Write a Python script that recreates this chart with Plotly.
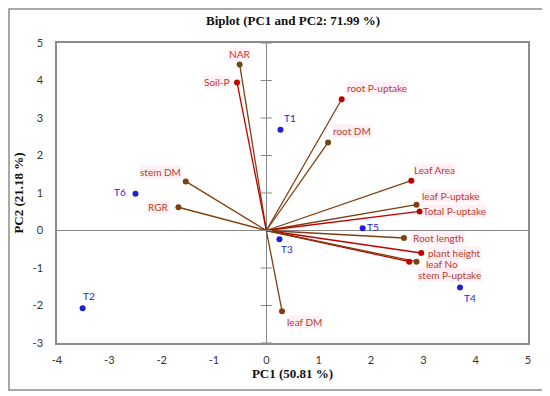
import plotly.graph_objects as go

# ---- data ----
var_names = ["NAR", "Soil-P", "stem DM", "RGR", "root P-uptake", "root DM", "Leaf Area",
             "leaf P-uptake", "Total P-uptake", "Root length", "plant height", "leaf No",
             "stem P-uptake", "leaf DM"]
var_pc1 = [-0.51, -0.56, -1.54, -1.68, 1.44, 1.18, 2.77, 2.87, 2.93, 2.63, 2.96, 2.73, 2.87, 0.30]
var_pc2 = [4.43, 3.95, 1.31, 0.62, 3.50, 2.35, 1.33, 0.69, 0.51, -0.20, -0.60, -0.83, -0.83, -2.15]

obs_names = ["T1", "T2", "T3", "T4", "T5", "T6"]
obs_pc1 = [0.27, -3.51, 0.25, 3.70, 1.84, -2.50]
obs_pc2 = [2.69, -2.07, -0.23, -1.52, 0.06, 0.98]

x_ticks = [-4, -3, -2, -1, 0, 1, 2, 3, 4, 5]
x_tick_labels = ["-4", "-3", "-2", "-1", "0", "1", "2", "3", "4", "5"]
y_ticks = [-3, -2, -1, 0, 1, 2, 3, 4, 5]
y_tick_labels = ["-3", "-2", "-1", "0", "1", "2", "3", "4", "5"]

# ---- styles ----
RED = "#C00000"
BROWN = "#7F3F10"
OLIVE = "#6B4A12"
line_cols = [BROWN, RED, BROWN, BROWN, BROWN, BROWN, BROWN, BROWN, RED, BROWN, RED, RED, BROWN, BROWN]
mark_cols = [OLIVE, RED, BROWN, BROWN, RED, OLIVE, RED, BROWN, RED, BROWN, RED, RED, BROWN, BROWN]
# label placement: (xanchor, yanchor, xshift, yshift)
var_lab = [("center", "bottom", 0, 3), ("right", "middle", -6, 0), ("right", "bottom", -4, 2),
           ("right", "middle", -8, 0), ("left", "bottom", 4, 4), ("left", "bottom", 4, 4),
           ("left", "bottom", 2, 4), ("left", "bottom", 4, 2), ("left", "middle", 2, 0),
           ("left", "middle", 8, 0), ("left", "middle", 6, 0), ("left", "middle", 16, -2),
           ("left", "middle", 0, -13), ("left", "top", 4, -4)]
obs_lab = [("left", "bottom", 2, 4), ("left", "bottom", -2, 4), ("left", "top", 0, -2),
           ("left", "top", 2, -2), ("left", "middle", 2, 1), ("right", "middle", -8, 2)]

LABEL_COL = "#B8402C"
BLUE = "#1F1FD8"
SERIF = "Liberation Serif"
SANS = "Lato"

fig = go.Figure()

for i, n in enumerate(var_names):
    fig.add_trace(go.Scatter(x=[0, var_pc1[i]], y=[0, var_pc2[i]], mode="lines",
                             line=dict(color=line_cols[i], width=1.3), hoverinfo="skip",
                             showlegend=False))
fig.add_trace(go.Scatter(x=var_pc1, y=var_pc2, mode="markers", text=var_names,
                         marker=dict(color=mark_cols, size=6), showlegend=False))
fig.add_trace(go.Scatter(x=obs_pc1, y=obs_pc2, mode="markers", text=obs_names,
                         marker=dict(color=BLUE, size=6), showlegend=False))

# tick marks on the zero line
fig.add_trace(go.Scatter(x=[0] * len(y_ticks), y=y_ticks, mode="markers",
                         marker=dict(symbol="line-ew", size=8,
                                     line=dict(color="#888888", width=1)),
                         hoverinfo="skip", showlegend=False))

for i, n in enumerate(var_names):
    xa, ya, xs, ys = var_lab[i]
    fig.add_annotation(x=var_pc1[i], y=var_pc2[i], text=n, showarrow=False,
                       xanchor=xa, yanchor=ya, xshift=xs, yshift=ys,
                       font=dict(family=SANS, size=10, color=LABEL_COL),
                       bgcolor="rgba(255,225,238,0.55)", borderpad=0)
for i, n in enumerate(obs_names):
    xa, ya, xs, ys = obs_lab[i]
    fig.add_annotation(x=obs_pc1[i], y=obs_pc2[i], text=n, showarrow=False,
                       xanchor=xa, yanchor=ya, xshift=xs, yshift=ys,
                       font=dict(family=SANS, size=10, color=BLUE))

# outer frame (plot area 471 x 300 px)
fig.add_shape(type="rect", xref="paper", yref="paper",
              x0=-48 / 471, x1=1 + 18 / 471, y0=-47 / 300, y1=1 + 34 / 300,
              line=dict(color="#8C8C8C", width=1.5), layer="above")

fig.add_annotation(xref="paper", yref="paper", x=0.5, y=1 + 13 / 300, yanchor="bottom",
                   text="<b>Biplot (PC1 and PC2: 71.99 %)</b>", showarrow=False,
                   font=dict(family=SERIF, size=13, color="#111111"))

axis_common = dict(showgrid=False, zeroline=True, zerolinecolor="#888888", zerolinewidth=1,
                   showline=True, mirror=True, linecolor="#8C8C8C", linewidth=1.5,
                   ticks="", automargin=False,
                   tickfont=dict(family=SANS, size=11, color="#333333"))

fig.update_layout(
    width=542, height=388,
    margin=dict(l=49, r=22, t=35, b=53),
    paper_bgcolor="white", plot_bgcolor="white",
    xaxis=dict(range=[-4, 5], tickvals=x_ticks, ticktext=x_tick_labels, ticklabelstandoff=6,
               title=dict(text="<b>PC1 (50.81 %)</b>", font=dict(family=SERIF, size=13, color="#111111"),
                          standoff=4),
               **axis_common),
    yaxis=dict(range=[-3, 5], tickvals=y_ticks, ticktext=y_tick_labels, ticklabelstandoff=10,
               title=dict(text="<b>PC2 (21.18 %)</b>", font=dict(family=SERIF, size=13, color="#111111"),
                          standoff=6),
               **axis_common),
    showlegend=False,
)

fig.write_html("out.html")
